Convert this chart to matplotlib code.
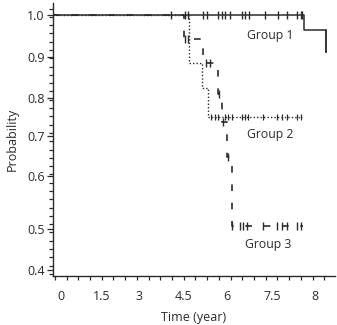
import numpy as np
import matplotlib
matplotlib.use('Agg')
from matplotlib import pyplot as plt
from matplotlib.ticker import FixedLocator, NullFormatter

plt.rcParams['font.family'] = ['Open Sans', 'DejaVu Sans']

# tick labels as printed on the picture
x_ticks = [0, 1.5, 3, 4.5, 6, 7.5, 8]
y_ticks = [0.4, 0.5, 0.6, 0.7, 0.8, 0.9, 1.0]

# group 1 (solid)
g1_times = [7.87, 8.12]
g1_surv = [1.0, 0.964, 0.912]
g1_cens_t = [4.06, 4.53, 4.65, 5.16, 5.29, 5.69, 5.82, 5.93, 6.10, 6.49,
             6.60, 6.73, 7.27, 7.57, 7.67, 7.79, 7.83, 7.85]
g1_end = 8.12

# group 2 (dotted)
g2_times = [4.67, 5.13, 5.34]
g2_surv = [1.0, 0.885, 0.824, 0.751]
g2_cens_t = [5.44, 5.58, 5.69, 5.93, 6.03, 6.17, 6.50, 6.60, 6.70, 7.20,
             7.56, 7.62, 7.67, 7.79, 7.83]
g2_end = 7.85

# group 3 (dashed)
g3_times = [4.50, 5.16, 5.69, 5.84, 6.00, 6.15]
g3_surv = [1.0, 0.943, 0.885, 0.81, 0.737, 0.648, 0.505]
g3_cens_t = [4.53, 4.64, 5.27, 5.41, 5.71, 5.86, 6.02, 6.17, 6.43, 6.53,
             6.67, 7.20, 7.56, 7.62, 7.67, 7.79, 7.83]
g3_end = 7.86

# the axes in the picture are not linear, so map label values to where they sit
x_knots = [-1, 0, 1.5, 3, 4.5, 6, 7.5, 8, 9]
x_pos = [33.7, 61, 102, 139, 184, 227, 272, 315, 401]
y_knots = [0.3, 0.4, 0.5, 0.6, 0.7, 0.8, 0.9, 1.0, 1.1]
y_pos = [-310, -270, -229, -176, -136, -98, -57, -15, 27]


def fwd_x(v):
    return np.interp(v, x_knots, x_pos)


def inv_x(p):
    return np.interp(p, x_pos, x_knots)


def fwd_y(v):
    return np.interp(v, y_knots, y_pos)


def inv_y(p):
    return np.interp(p, y_pos, y_knots)


def km_step(times, surv, start, end):
    xs = [start] + list(times) + [end]
    ys = list(surv) + [surv[-1]]
    return xs, ys


def surv_at(times, surv, t):
    idx = np.searchsorted(times, t, side='right')
    return np.asarray(surv)[idx]


fig = plt.figure(figsize=(3.37, 3.25), dpi=100)
ax = fig.add_axes([0.157, 0.151, 0.837, 0.84])
ax.set_xscale('function', functions=(fwd_x, inv_x))
ax.set_yscale('function', functions=(fwd_y, inv_y))
ax.set_xlim(-0.29, 8.23)
ax.set_ylim(0.385, 1.029)
x0 = ax.get_xlim()[0]

col = '#2b2b2b'

# group 1
xs, ys = km_step(g1_times, g1_surv, x0, g1_end)
ax.step(xs[:-1], ys[:-1], where='post', color=col, lw=1.1)
ax.plot([g1_times[-1], g1_end], [g1_surv[-2], g1_surv[-2]], color=col, lw=1.1)
ax.plot([g1_end, g1_end], [g1_surv[-2], g1_surv[-1]], color=col, lw=1.1)
ax.plot(g1_cens_t, surv_at(g1_times, g1_surv, g1_cens_t), ls='none',
        marker='|', ms=6, mew=1.0, color=col)

# group 2
xs, ys = km_step(g2_times, g2_surv, x0, g2_end)
ax.step(xs, ys, where='post', color=col, lw=1.0, ls=(0, (1, 1.5)))
ax.plot(g2_cens_t, surv_at(g2_times, g2_surv, g2_cens_t), ls='none',
        marker='|', ms=5, mew=0.9, color=col)

# group 3
xs, ys = km_step(g3_times, g3_surv, x0, g3_end)
ax.step(xs, ys, where='post', color=col, lw=1.2, ls=(0, (4, 7)))
ax.plot(g3_cens_t, surv_at(g3_times, g3_surv, g3_cens_t), ls='none',
        marker='|', ms=6, mew=1.0, color=col)

ax.text(7.43, 0.952, 'Group 1', fontsize=8.8, ha='center', va='center', color=col)
ax.text(7.43, 0.705, 'Group 2', fontsize=8.8, ha='center', va='center', color=col)
ax.text(7.37, 0.461, 'Group 3', fontsize=8.8, ha='center', va='center', color=col)

for s in ['top', 'right']:
    ax.spines[s].set_visible(False)
for s in ['left', 'bottom']:
    ax.spines[s].set_color(col)
    ax.spines[s].set_linewidth(1.0)

ax.xaxis.set_major_locator(FixedLocator(x_ticks))
ax.set_xticklabels(['0', '1.5', '3', '4.5', '6', '7.5', '8'])
ax.yaxis.set_major_locator(FixedLocator(y_ticks))
ax.set_yticklabels(['0.4', '0.5', '0.6', '0.7', '0.8', '0.9', '1.0'])

# minor ticks evenly spaced along the drawn axis
ax.xaxis.set_minor_locator(FixedLocator(inv_x(np.arange(55, 336, 11.7))))
ax.yaxis.set_minor_locator(FixedLocator(inv_y(-np.arange(274, 2, -8.3))))
ax.xaxis.set_minor_formatter(NullFormatter())
ax.yaxis.set_minor_formatter(NullFormatter())

ax.tick_params(which='both', direction='out', length=3, width=0.9, color=col,
               labelsize=9, labelcolor=col)
ax.tick_params(axis='x', which='major', length=0, pad=10)
ax.tick_params(axis='y', which='major', length=4, pad=2)

ax.set_xlabel('Time (year)', fontsize=9, color=col, labelpad=6)
ax.set_ylabel('Probability', fontsize=9, color=col, labelpad=6)

fig.savefig('out.png', dpi=100)
